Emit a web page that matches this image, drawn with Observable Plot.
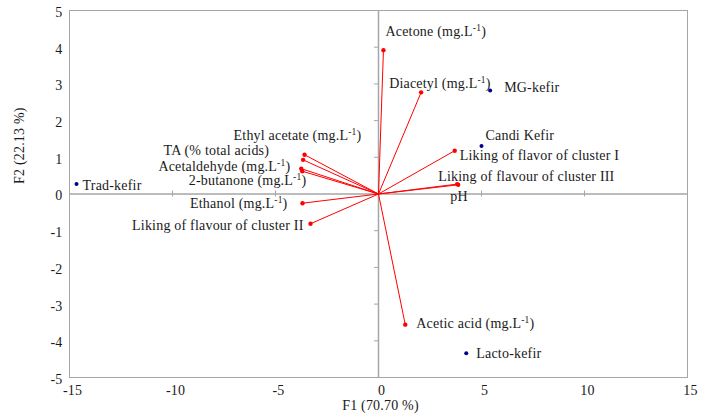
<!DOCTYPE html>
<html>
<head>
<meta charset="utf-8">
<script src="https://cdn.jsdelivr.net/npm/d3@7"></script>
<script src="https://cdn.jsdelivr.net/npm/@observablehq/plot@0.6"></script>
<style>
  html, body { margin: 0; padding: 0; background: #fff; }
  #chart svg { display: block; }
</style>
</head>
<body>
<div id="chart"></div>
<script>
// Variables (red vectors)
const variables = [
  "Acetone (mg.L-1)", "Diacetyl (mg.L-1)", "Liking of flavor of cluster I",
  "Liking of flavour of cluster III", "pH", "Ethyl acetate (mg.L-1)",
  "TA (% total acids)", "Acetaldehyde (mg.L-1)", "2-butanone (mg.L-1)",
  "Ethanol (mg.L-1)", "Liking of flavour of cluster II", "Acetic acid (mg.L-1)"
];
const varF1 = [0.24, 2.07, 3.70, 3.82, 3.87, -3.59, -3.66, -3.75, -3.70, -3.69, -3.30, 1.30];
const varF2 = [3.92, 2.77, 1.18, 0.27, 0.25, 1.07, 0.93, 0.69, 0.62, -0.25, -0.81, -3.56];

// Samples (blue points)
const samples = ["Trad-kefir", "MG-kefir", "Candi Kefir", "Lacto-kefir"];
const sampleF1 = [-14.66, 5.42, 5.00, 4.26];
const sampleF2 = [0.27, 2.82, 1.31, -4.34];

// Axis ticks
const xTicks = [-15, -10, -5, 0, 5, 10, 15];
const yTicks = [-5, -4, -3, -2, -1, 0, 1, 2, 3, 4, 5];

// Label placement (layout only)
const labelLayout = {
  "Acetone (mg.L-1)": ["start", 2, -19],
  "Diacetyl (mg.L-1)": ["start", -32, -9],
  "Liking of flavor of cluster I": ["start", 5, 5],
  "Liking of flavour of cluster III": ["start", -19, -8],
  "pH": ["start", -8, 12],
  "Ethyl acetate (mg.L-1)": ["start", -71, -19],
  "TA (% total acids)": ["end", -34, -9],
  "Acetaldehyde (mg.L-1)": ["end", -11, -2],
  "2-butanone (mg.L-1)": ["end", 4, 9],
  "Ethanol (mg.L-1)": ["end", -15, 0],
  "Liking of flavour of cluster II": ["end", -7, 2],
  "Acetic acid (mg.L-1)": ["start", 11, -1],
  "Trad-kefir": ["start", 6, 1],
  "MG-kefir": ["start", 14, -3],
  "Candi Kefir": ["start", 4, -10],
  "Lacto-kefir": ["start", 10, 0]
};

const varData = variables.map((name, i) => ({name, x: varF1[i], y: varF2[i]}));
const sampleData = samples.map((name, i) => ({name, x: sampleF1[i], y: sampleF2[i]}));

const font = "Liberation Serif, Times New Roman, serif";
const gray = "#a6a6a6";
const textColor = "#1a1a1a";
const fs = 14;

const labelMarks = [...varData, ...sampleData].map(d => {
  const [anchor, dx, dy] = labelLayout[d.name];
  return Plot.text([d], {x: "x", y: "y", text: "name", textAnchor: anchor, dx, dy,
    fill: textColor, fontSize: fs, fontFamily: font});
});

const plot = Plot.plot({
  width: 713,
  height: 419,
  marginLeft: 69,
  marginRight: 26,
  marginTop: 10,
  marginBottom: 42,
  style: {fontFamily: font, background: "#fff", letterSpacing: "0.2px"},
  x: {domain: [-15, 15]},
  y: {domain: [-5, 5]},
  marks: [
    Plot.frame({stroke: gray}),
    Plot.ruleY([0], {stroke: gray, strokeWidth: 1.5}),
    Plot.ruleX([0], {stroke: gray, strokeWidth: 1.5}),
    Plot.ruleX(xTicks.filter(v => v > -15 && v < 15), {x: d => d, y1: 0, y2: 0, insetTop: -3, insetBottom: -3, stroke: gray}),
    Plot.ruleY(yTicks.filter(v => v > -5 && v < 5), {y: d => d, x1: 0, x2: 0, insetLeft: -4, insetRight: 0, stroke: gray}),
    Plot.axisX(xTicks, {tickSize: 0, tickPadding: 8, dx: 3, fontSize: fs, fill: textColor, label: null, tickFormat: d => String(d)}),
    Plot.axisY(yTicks, {tickSize: 0, tickPadding: 7, dy: 2, fontSize: fs, fill: textColor, label: null, tickFormat: d => String(d)}),
    Plot.text(["F1 (70.70 %)"], {frameAnchor: "bottom", dy: 32, dx: 2, fontSize: fs, fill: textColor}),
    Plot.text(["F2 (22.13 %)"], {frameAnchor: "left", dx: -50, dy: -10, rotate: -90, fontSize: fs, fill: textColor}),
    Plot.link(varData, {x1: 0, y1: 0, x2: "x", y2: "y", stroke: "#ff0000", strokeWidth: 1}),
    Plot.dot(varData, {x: "x", y: "y", r: 2.2, fill: "#ff0000", stroke: null}),
    Plot.dot(sampleData, {x: "x", y: "y", r: 2, fill: "#00008b", stroke: null}),
    ...labelMarks
  ]
});

// Superscript "-1" in mg.L-1 labels
const ns = "http://www.w3.org/2000/svg";
plot.querySelectorAll("text").forEach(t => {
  const s = t.textContent;
  const i = s.indexOf("L-1");
  if (i < 0) return;
  t.textContent = "";
  const a = document.createElementNS(ns, "tspan");
  a.textContent = s.slice(0, i + 1);
  const b = document.createElementNS(ns, "tspan");
  b.textContent = "-1";
  b.setAttribute("dy", "-5");
  b.setAttribute("font-size", "9.5");
  const c = document.createElementNS(ns, "tspan");
  c.textContent = s.slice(i + 3);
  c.setAttribute("dy", "5");
  t.append(a, b, c);
});

document.getElementById("chart").append(plot);
</script>
</body>
</html>
